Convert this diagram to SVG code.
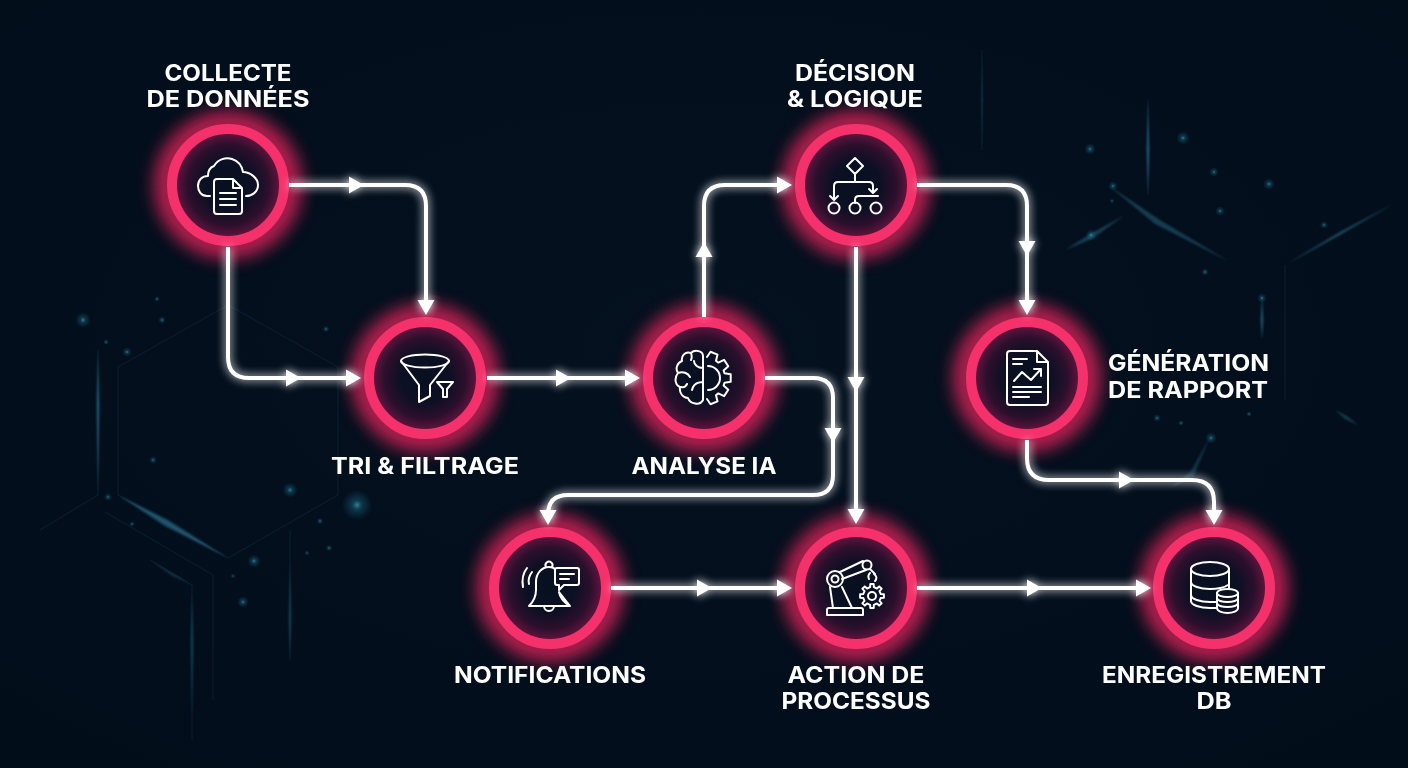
<svg xmlns="http://www.w3.org/2000/svg" xmlns:xlink="http://www.w3.org/1999/xlink" width="1408" height="768" viewBox="0 0 1408 768">
<style>
.ring{fill:none;stroke:#f5316b;stroke-width:10}
.halo{fill:none;stroke:#ff2565;stroke-width:22;opacity:.78}
.disc{fill:url(#discG)}
.ic{fill:none;stroke:#fff;stroke-width:2;stroke-linecap:round;stroke-linejoin:round}
.lb{font-family:Inter,"Liberation Sans",sans-serif;font-weight:700;font-size:23px;fill:#fff}
.cn{fill:none;stroke:#fff;stroke-width:4;stroke-linecap:butt;stroke-linejoin:round}
.hex{fill:none;stroke:#12344c;stroke-width:1.2;opacity:.4}
.st{fill:#3f9fc4}
.dg{fill:url(#dotG)}
</style>
<defs>
<radialGradient id="bgG" cx="50%" cy="45%" r="75%"><stop offset="0" stop-color="#04111f"/><stop offset="1" stop-color="#020d1a"/></radialGradient>
<radialGradient id="discG"><stop offset="0" stop-color="#06101f"/><stop offset=".45" stop-color="#0c1024"/><stop offset=".75" stop-color="#2c0f2c"/><stop offset="1" stop-color="#6a1440"/></radialGradient>
<radialGradient id="dotG"><stop offset="0" stop-color="#49c3dc" stop-opacity=".8"/><stop offset=".3" stop-color="#2a8fb0" stop-opacity=".4"/><stop offset="1" stop-color="#1a6f95" stop-opacity="0"/></radialGradient>
<filter id="blurH" x="-40%" y="-40%" width="180%" height="180%"><feGaussianBlur stdDeviation="9"/></filter>
<filter id="blurS" x="-20%" y="-20%" width="140%" height="140%"><feGaussianBlur stdDeviation="1.200"/></filter>
<filter id="glowC" filterUnits="userSpaceOnUse" x="0" y="0" width="1408" height="768"><feGaussianBlur in="SourceGraphic" stdDeviation="5" result="b"/><feComponentTransfer in="b" result="b2"><feFuncA type="linear" slope="1.100"/></feComponentTransfer><feMerge><feMergeNode in="b2"/><feMergeNode in="SourceGraphic"/></feMerge></filter>
<path id="ah" d="M-14 -8.500L1 0L-14 8.500Z" fill="#fff"/>
<marker id="end" markerUnits="userSpaceOnUse" markerWidth="18" markerHeight="20" viewBox="0 0 18 20" refX="12" refY="10" orient="auto"><path d="M0 1.500L15 10L0 18.500Z" fill="#fff"/></marker>
</defs>
<rect width="1408" height="768" fill="url(#bgG)"/>
<g id="background">
<path class="hex" d="M228 305L118 367V495L228 558L338 495V367Z"/>
<path class="hex" d="M98 350V495L40 530M105 512L213 575V700M150 560L192 585V740M290 530V660"/>
<path class="hex" d="M1285 265V400M982 50V150M1148 100V195"/>
<g filter="url(#blurS)" opacity=".45">
<path class="st" d="M98 350L99.500 405L98 495L96.500 405Z"/>
<path class="st" d="M118 495L168 520L228 558L165 526Z"/>
<path class="st" d="M150 560L175 575L192 585L172 576Z" opacity=".6"/>
<path class="st" d="M192 590L193.500 640L192 720L190.500 640Z" opacity=".6"/>
<path class="st" d="M290 560L291.500 620L290 660L288.500 620Z" opacity=".6"/>
<path class="st" d="M1108 185L1160 220L1230 262L1155 224Z" opacity=".7"/>
<path class="st" d="M1285 265L1340 232L1395 203L1338 236Z"/>
<path class="st" d="M1148 100L1149.500 150L1148 195L1146.500 150Z"/>
<path class="st" d="M1065 250L1090 234L1125 215L1092 239Z" opacity=".7"/>
<path class="st" d="M1170 488L1190 472L1210 437L1194 476Z" opacity=".5"/>
<path class="st" d="M1335 410L1347 416L1358 425L1345 419Z" opacity=".7"/>
<path class="st" d="M1262 295L1263.500 320L1262 340L1260.500 320Z"/>
<path class="st" d="M982 50L983 100L982 150L981 100Z" opacity=".4"/>
</g>
<g opacity=".8">
<circle class="dg" cx="83" cy="320" r="8"/><circle class="dg" cx="162" cy="320" r="4"/><circle class="dg" cx="157" cy="299" r="3"/><circle class="dg" cx="127" cy="352" r="5"/><circle class="dg" cx="106" cy="342" r="3"/><circle class="dg" cx="153" cy="460" r="4"/><circle class="dg" cx="290" cy="490" r="8"/><circle class="dg" cx="357" cy="505" r="16"/><circle class="dg" cx="254" cy="561" r="7"/><circle class="dg" cx="243" cy="602" r="6"/><circle class="dg" cx="108" cy="497" r="4"/><circle class="dg" cx="132" cy="524" r="3"/><circle class="dg" cx="233" cy="576" r="2.500"/><circle class="dg" cx="320" cy="521" r="3.500"/><circle class="dg" cx="307" cy="553" r="2.500"/><circle class="dg" cx="329" cy="548" r="3.500"/><circle class="dg" cx="326" cy="329" r="3.500"/>
<circle class="dg" cx="1090" cy="149" r="6"/><circle class="dg" cx="1183" cy="138" r="7"/><circle class="dg" cx="1214" cy="172" r="5"/><circle class="dg" cx="1269" cy="184" r="6"/><circle class="dg" cx="1220" cy="211" r="5"/><circle class="dg" cx="1091" cy="235" r="6"/><circle class="dg" cx="1113" cy="186" r="5"/><circle class="dg" cx="1112" cy="201" r="2.500"/><circle class="dg" cx="1205" cy="272" r="4"/><circle class="dg" cx="1324" cy="225" r="4"/><circle class="dg" cx="1262" cy="298" r="5"/><circle class="dg" cx="1157" cy="418" r="4"/><circle class="dg" cx="1181" cy="423" r="3"/><circle class="dg" cx="1249" cy="414" r="3"/><circle class="dg" cx="1211" cy="438" r="6"/>
</g>
</g>

<g id="n1">
<circle class="halo" cx="228" cy="185" r="62" filter="url(#blurH)"/><circle class="disc" cx="228" cy="185" r="54"/><circle class="ring" cx="228" cy="185" r="56"/>
<path class="ic" d="M210 196H207C201 196 198 191 198 186C198 180 202 176 208 176C208 170 211 167 214 166C218 159 226 157 232 159C238 161 242 166 243 172C250 172 258 178 258 185C258 192 252 196 246 196"/>
<path class="ic" d="M217 179H233L242 188V211Q242 214 239 214H217Q214 214 214 211V182Q214 179 217 179ZM233 179V188H242M220 193H236M220 199H236M220 205H236"/>
<text class="lb" x="228" y="81" text-anchor="middle" textLength="127" lengthAdjust="spacingAndGlyphs">COLLECTE</text>
<text class="lb" x="228" y="107" text-anchor="middle" textLength="163" lengthAdjust="spacingAndGlyphs">DE DONNÉES</text>
</g>

<g id="n2">
<circle class="halo" cx="425" cy="378" r="62" filter="url(#blurH)"/><circle class="disc" cx="425" cy="378" r="54"/><circle class="ring" cx="425" cy="378" r="56"/>
<ellipse class="ic" cx="425" cy="361" rx="24" ry="6.500"/>
<path class="ic" d="M401 361L419 385V402L430 396V385L449 361"/>
<path class="ic" d="M437 382H453L447 389V397H443V389Z"/>
<text class="lb" x="425" y="474" text-anchor="middle" textLength="188" lengthAdjust="spacingAndGlyphs">TRI &amp; FILTRAGE</text>
</g>

<g id="n3">
<circle class="halo" cx="704" cy="378" r="62" filter="url(#blurH)"/><circle class="disc" cx="704" cy="378" r="54"/><circle class="ring" cx="704" cy="378" r="56"/>
<path class="ic" d="M703 356C703 351 695 349 691 353C685 351 681 356 682 361C677 363 675 369 678 373C674 378 675 385 680 387C679 393 683 398 688 398C690 404 700 406 703 400ZM703 368C698 368 694 365 694 361M678 373C683 371 688 373 690 377M703 382C697 382 693 385 692 390M681 387C684 388 686 386 687 384M691 353C692 356 692 358 691 360"/>
<path class="ic" d="M707 357L710.500 351.800L717.500 354.600L716 360.800L718.300 362.600L724.100 359.900L728.300 366.200L723.600 370.500L724.500 373.300L730.700 374.200V381.800L724.500 382.700L723.600 385.500L728.300 389.800L724.100 396.100L718.300 393.400L716 395.200L717.500 401.400L710.500 404.200L707 399M708 366A12 12 0 0 1 708 390"/>
<text class="lb" x="704" y="474" text-anchor="middle" textLength="145" lengthAdjust="spacingAndGlyphs">ANALYSE IA</text>
</g>

<g id="n4">
<circle class="halo" cx="856" cy="185" r="62" filter="url(#blurH)"/><circle class="disc" cx="856" cy="185" r="54"/><circle class="ring" cx="856" cy="185" r="56"/>
<path class="ic" d="M855 158L863 166L855 174L847 166ZM855 174V182M873 192V186Q873 182 869 182H838Q834 182 834 186V199M830 196L834 200L838 196M869 189L873 193L877 189M878 196H859Q855 196 855 200V203"/>
<circle class="ic" cx="834" cy="208" r="5.500"/><circle class="ic" cx="855" cy="208" r="5.500"/><circle class="ic" cx="876" cy="208" r="5.500"/>
<text class="lb" x="855" y="81" text-anchor="middle" textLength="120" lengthAdjust="spacingAndGlyphs">DÉCISION</text>
<text class="lb" x="855" y="107" text-anchor="middle" textLength="136" lengthAdjust="spacingAndGlyphs">&amp; LOGIQUE</text>
</g>

<g id="n5">
<circle class="halo" cx="1027" cy="378" r="62" filter="url(#blurH)"/><circle class="disc" cx="1027" cy="378" r="54"/><circle class="ring" cx="1027" cy="378" r="56"/>
<path class="ic" d="M1010 351H1037L1048 362V402Q1048 405 1045 405H1010Q1007 405 1007 402V354Q1007 351 1010 351ZM1037 351V362H1048M1013 359H1027M1013 364H1022M1014 381L1022 372L1031 380L1041 369M1034 369H1041V376M1013 387H1041M1013 392H1041M1013 397H1029"/>
<text class="lb" x="1108" y="371" textLength="161" lengthAdjust="spacingAndGlyphs">GÉNÉRATION</text>
<text class="lb" x="1108" y="398" textLength="160" lengthAdjust="spacingAndGlyphs">DE RAPPORT</text>
</g>

<g id="n6">
<circle class="halo" cx="550" cy="588" r="62" filter="url(#blurH)"/><circle class="disc" cx="550" cy="588" r="54"/><circle class="ring" cx="550" cy="588" r="56"/>
<path class="ic" d="M529 606C534 601 536 596 536 590V582C536 573 542 567 549 567C551 567 553 567 555 569M559 592C560 598 565 603 570 606ZM529 606H570M544 606A5 5 0 0 0 554 606M546 567A3.500 3.500 0 1 1 552 567"/>
<path class="ic" d="M557 568H577Q579 568 579 570V583Q579 585 577 585H564L559 590V585H557Q555 585 555 583V570Q555 568 557 568ZM560 574H574M560 579H569"/>
<path class="ic" d="M527 568C523 573 522 581 523 587M532 572C529 576 528 580 529 584"/>
<text class="lb" x="550" y="683" text-anchor="middle" textLength="192" lengthAdjust="spacingAndGlyphs">NOTIFICATIONS</text>
</g>

<g id="n7">
<circle class="halo" cx="856" cy="588" r="62" filter="url(#blurH)"/><circle class="disc" cx="856" cy="588" r="54"/><circle class="ring" cx="856" cy="588" r="56"/>
<path class="ic" d="M829 608H861Q863 608 863 610V615H827V610Q827 608 829 608ZM830 587L833 608M842 587L852 608M840 572L863 561M842 579L866 570"/>
<circle class="ic" cx="835" cy="579" r="8"/><circle class="ic" cx="835" cy="579" r="3.500"/><circle class="ic" cx="867" cy="565" r="4.500"/>
<path class="ic" d="M870 569L875 574M874 574C877 576 877 579 875 581M870 573C868 575 868 577 869 579"/>
<path class="ic" d="M880.800 594.100L883.900 594.300V597.700L880.800 597.900L879.500 600.900L881.600 603.200L879.200 605.600L876.900 603.500L873.900 604.800L873.700 607.900H870.300L870.100 604.800L867.100 603.500L864.800 605.600L862.400 603.200L864.500 600.900L863.200 597.900L860.100 597.700V594.300L863.200 594.100L864.500 591.100L862.400 588.800L864.800 586.400L867.100 588.500L870.100 587.200L870.300 584.100H873.700L873.900 587.200L876.900 588.500L879.200 586.400L881.600 588.800L879.500 591.100Z"/>
<circle class="ic" cx="872" cy="596" r="4"/>
<text class="lb" x="856" y="683" text-anchor="middle" textLength="137" lengthAdjust="spacingAndGlyphs">ACTION DE</text>
<text class="lb" x="856" y="709" text-anchor="middle" textLength="149" lengthAdjust="spacingAndGlyphs">PROCESSUS</text>
</g>

<g id="n8">
<circle class="halo" cx="1214" cy="588" r="62" filter="url(#blurH)"/><circle class="disc" cx="1214" cy="588" r="54"/><circle class="ring" cx="1214" cy="588" r="56"/>
<ellipse class="ic" cx="1210" cy="569" rx="19" ry="7"/>
<path class="ic" d="M1191 569V601C1191 605 1200 608 1210 608H1216M1229 569V588M1191 582C1191 586 1200 589 1210 589C1218 589 1225 587 1228 585M1191 595C1191 599 1200 602 1210 602H1216"/>
<ellipse class="ic" cx="1227.500" cy="593" rx="10.500" ry="4"/>
<path class="ic" d="M1217 593V608C1217 611 1222 613 1227.500 613C1233 613 1238 611 1238 608V593M1217 598C1217 600.500 1222 602 1227.500 602C1233 602 1238 600.500 1238 598M1217 603C1217 605.500 1222 607 1227.500 607C1233 607 1238 605.500 1238 603"/>
<text class="lb" x="1214" y="683" text-anchor="middle" textLength="224" lengthAdjust="spacingAndGlyphs">ENREGISTREMENT</text>
<text class="lb" x="1214" y="709" text-anchor="middle" textLength="35" lengthAdjust="spacingAndGlyphs">DB</text>
</g>

<g id="connectors" filter="url(#glowC)">
<path id="c1" class="cn" marker-end="url(#end)" d="M289 185H405Q426 185 426 206V312"/>
<path id="c2" class="cn" marker-end="url(#end)" d="M228 247V357Q228 378 249 378H358"/>
<path id="c3" class="cn" marker-end="url(#end)" d="M487 378H637"/>
<path id="c4" class="cn" marker-end="url(#end)" d="M704 317V206Q704 185 725 185H789"/>
<path id="c5" class="cn" marker-end="url(#end)" d="M917 185H1006Q1027 185 1027 206V312"/>
<path id="c6" class="cn" marker-end="url(#end)" d="M856 247V521"/>
<path id="c7" class="cn" marker-end="url(#end)" d="M765 378H813Q833 378 833 398V475Q833 495 813 495H568Q548 495 548 515V522"/>
<path id="c8" class="cn" marker-end="url(#end)" d="M1027 440V458Q1027 480 1049 480H1192Q1214 480 1214 502V522"/>
<path id="c9" class="cn" marker-end="url(#end)" d="M611 588H789"/>
<path id="c10" class="cn" marker-end="url(#end)" d="M917 588H1148"/>
<use href="#ah" transform="translate(363 185)"/>
<use href="#ah" transform="translate(300 378)"/>
<use href="#ah" transform="translate(570 378)"/>
<use href="#ah" transform="translate(704 243) rotate(-90)"/>
<use href="#ah" transform="translate(1027 255) rotate(90)"/>
<use href="#ah" transform="translate(856 391) rotate(90)"/>
<use href="#ah" transform="translate(833 442) rotate(90)"/>
<use href="#ah" transform="translate(1133 480)"/>
<use href="#ah" transform="translate(711 588)"/>
<use href="#ah" transform="translate(1041 588)"/>
</g>
</svg>
